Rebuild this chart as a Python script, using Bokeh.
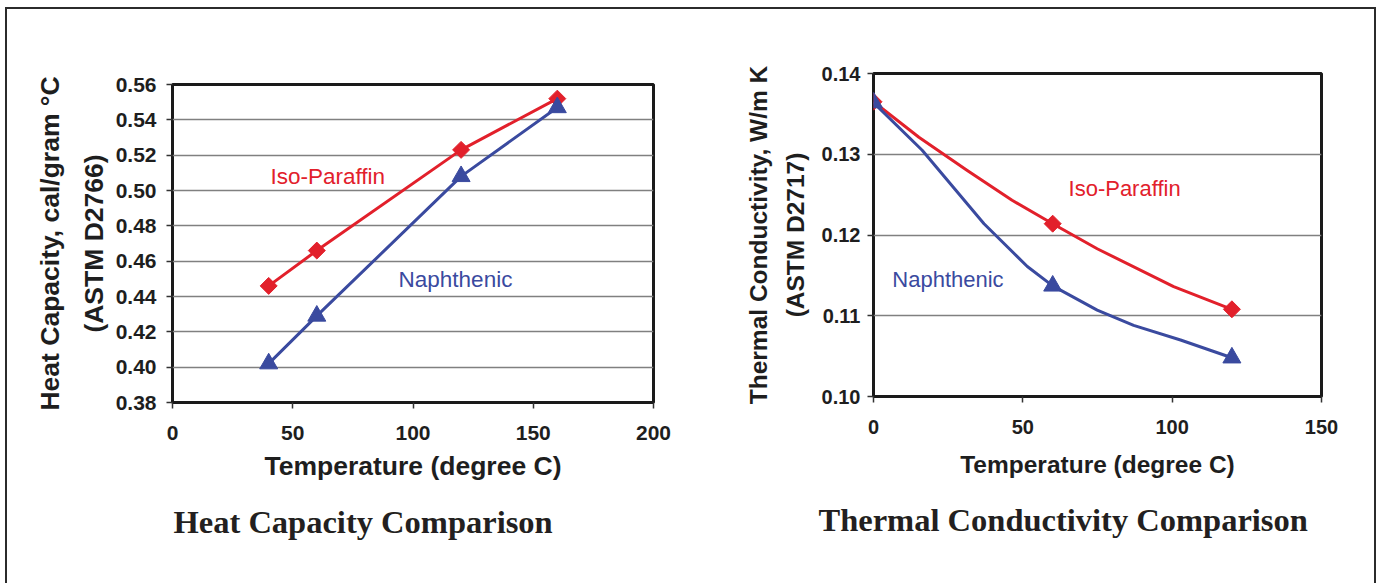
from bokeh.plotting import figure
from bokeh.models import Range1d, FixedTicker, PrintfTickFormatter, Label, LinearAxis, Title
from bokeh.embed import file_html
from bokeh.resources import INLINE
import math

# ---------------- data ----------------
hc_temp = [40, 60, 120, 160]
hc_iso = [0.446, 0.466, 0.523, 0.552]
hc_naph = [0.402, 0.429, 0.508, 0.547]

tc_temp = [0, 60, 120]
tc_iso = [0.1365, 0.1214, 0.1108]
tc_naph = [0.1364, 0.1137, 0.1048]

# smoothed line paths
tc_iso_path_t = [0, 15.2, 31.4, 46.4, 60, 74.9, 100.5, 120]
tc_iso_path_k = [0.1365, 0.1321, 0.1280, 0.1243, 0.1214, 0.1183, 0.1136, 0.1108]
tc_naph_path_t = [0, 16.3, 37, 51.5, 60, 74.9, 87.1, 102.8, 120]
tc_naph_path_k = [0.1364, 0.1305, 0.1214, 0.1161, 0.1137, 0.1107, 0.1088, 0.1070, 0.1048]

hc_xticks = [0, 50, 100, 150, 200]
hc_yticks = [0.38, 0.40, 0.42, 0.44, 0.46, 0.48, 0.50, 0.52, 0.54, 0.56]
tc_xticks = [0, 50, 100, 150]
tc_yticks = [0.10, 0.11, 0.12, 0.13, 0.14]

RED = "#e2202b"
BLUE = "#3a4a9f"
INK = "#1e1e1e"
SANS = "Liberation Sans"
SERIF = "Liberation Serif"


def style(p, xticks, yticks, tick_size, label_size, xlabel_standoff, xmaj_standoff,
          ymaj_standoff, ylab1, ylab2, s1, s2):
    p.background_fill_color = "white"
    p.border_fill_color = "white"
    p.outline_line_color = "#1a1a1a"
    p.outline_line_width = 3
    p.xgrid.visible = False
    p.ygrid.ticker = FixedTicker(ticks=yticks)
    p.ygrid.grid_line_color = "#808080"
    p.ygrid.grid_line_width = 1.5
    p.xaxis.ticker = FixedTicker(ticks=xticks)
    p.yaxis.ticker = FixedTicker(ticks=yticks)
    p.yaxis.formatter = PrintfTickFormatter(format="%.2f")
    for ax in (p.xaxis, p.yaxis):
        ax.axis_line_color = None
        ax.major_tick_in = 0
        ax.major_tick_out = 6
        ax.major_tick_line_color = "#333333"
        ax.major_tick_line_width = 1.5
        ax.minor_tick_line_color = None
        ax.major_label_text_font = SANS
        ax.major_label_text_font_style = "bold"
        ax.major_label_text_font_size = tick_size
        ax.major_label_text_color = INK
        ax.axis_label_text_font = SANS
        ax.axis_label_text_font_style = "bold"
        ax.axis_label_text_font_size = label_size
        ax.axis_label_text_color = INK
    p.xaxis.major_label_standoff = xmaj_standoff
    p.yaxis.major_label_standoff = ymaj_standoff
    p.xaxis.axis_label = "Temperature (degree C)"
    p.xaxis.axis_label_standoff = xlabel_standoff
    p.yaxis.axis_label = ylab2
    p.yaxis.axis_label_standoff = s2
    outer = LinearAxis(axis_label=ylab1, ticker=FixedTicker(ticks=[]),
                       axis_line_color=None, major_tick_line_color=None,
                       minor_tick_line_color=None, major_tick_out=0, major_tick_in=0,
                       major_label_text_font_size="0px", major_label_standoff=0,
                       axis_label_standoff=s1, axis_label_text_font=SANS,
                       axis_label_text_font_style="bold", axis_label_text_font_size=label_size,
                       axis_label_text_color=INK)
    p.add_layout(outer, "left")


def dlabel(p, x, y, text, size, color):
    p.add_layout(Label(x=x, y=y, text=text, text_font=SANS, text_font_size=size,
                       text_color=color, text_align="left", text_baseline="alphabetic"))


def title(p, text, offset, standoff):
    p.add_layout(Title(text=text, align="left", offset=offset, standoff=standoff,
                       text_font=SERIF, text_font_style="bold", text_font_size="32.5px",
                       text_color="#231f20"), "below")


# ---------------- left: heat capacity ----------------
p1 = figure(width=683, height=574, x_range=Range1d(0, 200), y_range=Range1d(0.38, 0.56),
            output_backend="svg", toolbar_location=None, name="hc",
            min_border_left=165, min_border_right=37, min_border_top=75, min_border_bottom=181)
style(p1, hc_xticks, hc_yticks, "21px", "26.5px", 8, 17, 10,
      "Heat Capacity, cal/gram \u00b0C", "(ASTM D2766)", 11, 4)

p1.line(hc_temp, hc_iso, line_color=RED, line_width=3, line_join="round")
p1.scatter(hc_temp, hc_iso, marker="square", angle=math.pi / 4, size=12,
           fill_color=RED, line_color=RED)
p1.line(hc_temp, hc_naph, line_color=BLUE, line_width=3, line_join="round")
p1.scatter(hc_temp, hc_naph, marker="triangle", size=18, fill_color=BLUE, line_color=BLUE)

dlabel(p1, 40.7, 0.5078, "Iso-Paraffin", "22.5px", RED)
dlabel(p1, 94.0, 0.4494, "Naphthenic", "22.5px", BLUE)
title(p1, "Heat Capacity Comparison", 1, 36)

# ---------------- right: thermal conductivity ----------------
p2 = figure(width=684, height=574, x_range=Range1d(0, 150), y_range=Range1d(0.10, 0.14),
            output_backend="svg", toolbar_location=None, name="tc",
            min_border_left=183, min_border_right=53, min_border_top=64, min_border_bottom=187)
style(p2, tc_xticks, tc_yticks, "20px", "24.5px", 14, 17, 7,
      "Thermal Conductivity, W/m K", "(ASTM D2717)", 7, 10)

p2.line(tc_iso_path_t, tc_iso_path_k, line_color=RED, line_width=3, line_join="round")
p2.scatter(tc_temp, tc_iso, marker="square", angle=math.pi / 4, size=12,
           fill_color=RED, line_color=RED)
p2.line(tc_naph_path_t, tc_naph_path_k, line_color=BLUE, line_width=3, line_join="round")
p2.scatter(tc_temp, tc_naph, marker="triangle", size=18, fill_color=BLUE, line_color=BLUE)

dlabel(p2, 65.3, 0.1258, "Iso-Paraffin", "22px", RED)
dlabel(p2, 6.3, 0.1145, "Naphthenic", "22px", BLUE)
title(p2, "Thermal Conductivity Comparison", -55, 38)

template = """
{% block contents %}
{% from macros import embed with context %}
<div style="display:flex;flex-direction:row;align-items:flex-start;width:max-content;margin:7px 0 0 5px;border-left:2px solid #2b2b2b;border-top:2px solid #2b2b2b;border-right:2px solid #2b2b2b;">
{{ embed(roots.hc) }}
{{ embed(roots.tc) }}
</div>
{% endblock %}
"""

open("out.html", "w").write(file_html([p1, p2], INLINE, template=template))
